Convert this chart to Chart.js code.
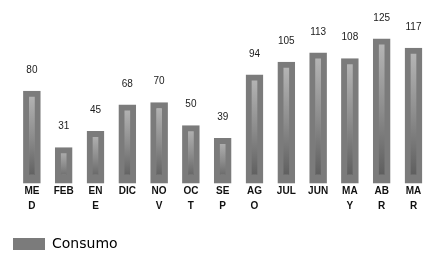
<!DOCTYPE html>
<html>
<head>
<meta charset="utf-8">
<script src="https://cdn.jsdelivr.net/npm/chart.js@4"></script>
<style>
  html, body { margin: 0; padding: 0; background: #fff; overflow: hidden; }
  #wrap { width: 428px; height: 253px; overflow: hidden; }
  #wrap div { width: 432px; height: 261px; position: relative; }
</style>
</head>
<body>
<div id="wrap"><div><canvas id="chart"></canvas></div></div>
<script>
// meses (algunos cortados en dos lineas como en el original)
const meses = [["ME", "D"], "FEB", ["EN", "E"], "DIC", ["NO", "V"], ["OC", "T"], ["SE", "P"],
  ["AG", "O"], "JUL", "JUN", ["MA", "Y"], ["AB", "R"], ["MA", "R"]];
const consumo = [80, 31, 45, 68, 70, 50, 39, 94, 105, 113, 108, 125, 117];
const serieNombre = "Consumo";

// degradado vertical para la franja interior de cada barra
function barFill(ctx) {
  const chart = ctx.chart;
  if (!chart.chartArea || !chart.scales.y) return "#8a8a8a";
  const y = chart.scales.y;
  const top = y.getPixelForValue(ctx.raw);
  const base = y.getPixelForValue(0);
  const g = chart.ctx.createLinearGradient(0, top, 0, base);
  g.addColorStop(0, "#b8b8b8");
  g.addColorStop(0.5, "#8c8c8c");
  g.addColorStop(1, "#585858");
  return g;
}

// etiquetas de valor encima de las barras
const valueLabels = {
  id: "valueLabels",
  afterDatasetsDraw(chart) {
    const c = chart.ctx;
    const meta = chart.getDatasetMeta(0);
    c.save();
    c.font = "10px 'Liberation Sans', Arial, sans-serif";
    c.fillStyle = "#1a1a1a";
    c.textAlign = "center";
    c.textBaseline = "middle";
    meta.data.forEach((bar, i) => {
      c.fillText(String(consumo[i]), bar.x, bar.y - 21);
    });
    c.restore();
  }
};

new Chart(document.getElementById("chart"), {
  type: "bar",
  data: {
    labels: meses,
    datasets: [{
      label: serieNombre,
      data: consumo,
      backgroundColor: barFill,
      borderColor: "#7b7b7b",
      borderWidth: { left: 6, right: 6, top: 6, bottom: 9 },
      borderSkipped: false,
      barThickness: 17
    }]
  },
  options: {
    responsive: true,
    maintainAspectRatio: false,
    animation: false,
    layout: { padding: { left: 3, right: 2.6, top: 10, bottom: 0 } },
    plugins: {
      legend: {
        position: "bottom",
        align: "start",
        labels: {
          boxWidth: 32,
          boxHeight: 12,
          color: "#555",
          font: { family: "'DejaVu Sans', sans-serif", size: 14 },
          generateLabels: (chart) => [{
            text: serieNombre, fillStyle: "#7b7b7b", strokeStyle: "#7b7b7b",
            lineWidth: 0, datasetIndex: 0
          }]
        }
      },
      tooltip: { enabled: false }
    },
    scales: {
      x: {
        grid: { display: false, drawTicks: false },
        border: { display: false },
        ticks: {
          color: "#111",
          padding: 0,
          maxRotation: 0,
          autoSkip: false,
          font: { family: "'Liberation Sans', Arial, sans-serif", size: 10, weight: "bold", lineHeight: 1.5 }
        },
        afterFit: (s) => { s.height = 43.5; }
      },
      y: {
        display: true,
        min: 0,
        max: 150,
        grid: { display: false, drawTicks: false },
        border: { display: false },
        ticks: { display: false },
        afterFit: (s) => { s.width = 13; }
      }
    }
  },
  plugins: [valueLabels]
});
</script>
</body>
</html>
